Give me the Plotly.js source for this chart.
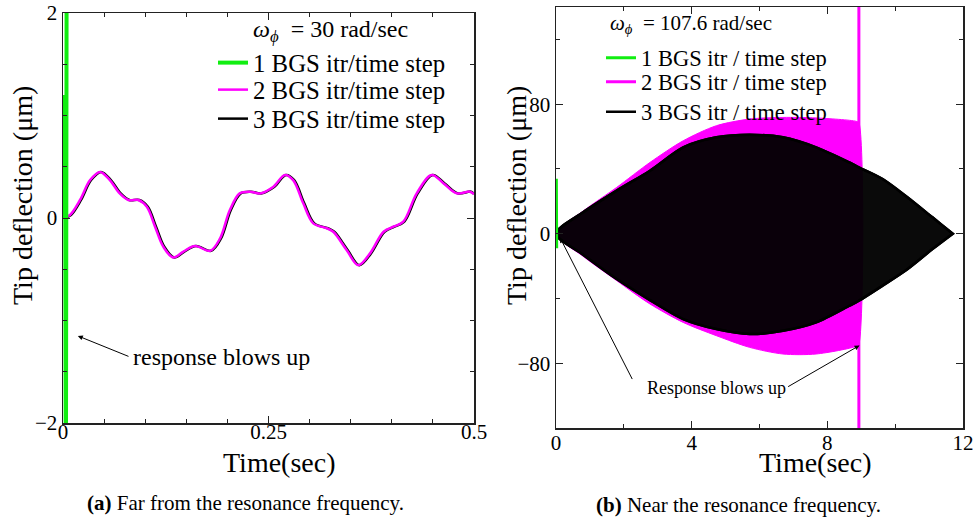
<!DOCTYPE html>
<html>
<head>
<meta charset="utf-8">
<script src="https://cdn.plot.ly/plotly-3.0.1.min.js"></script>
<style>html,body{margin:0;padding:0;background:#fff;}#plot{width:978px;height:521px;}</style>
</head>
<body>
<div id="plot"></div>
<script>
// ---- Panel (a): far from resonance (time in s, deflection in um) ----
const timeA2 = [0.0004,0.0085,0.0207,0.033,0.045,0.057,0.069,0.0795,0.0917,0.102,0.112,0.122,0.134,0.146,0.1606,0.179,0.191,0.203,0.215,0.2275,0.2397,0.256,0.27,0.28,0.2923,0.3045,0.3208,0.3288,0.345,0.3593,0.3735,0.39,0.402,0.414,0.4303,0.4485,0.4627,0.479,0.495,0.5];
const defA2 = [0,0.03,0.176,0.37,0.45,0.37,0.24,0.176,0.176,0.11,-0.085,-0.28,-0.385,-0.33,-0.273,-0.32,-0.2,0.078,0.24,0.257,0.24,0.305,0.42,0.37,0.143,-0.052,-0.1,-0.134,-0.312,-0.46,-0.345,-0.134,-0.085,-0.036,0.24,0.42,0.34,0.24,0.257,0.234];
const timeA3 = [0.0016,0.0097,0.0219,0.0342,0.0462,0.0582,0.0702,0.0807,0.0929,0.1032,0.1132,0.1232,0.1352,0.1472,0.1618,0.1802,0.1922,0.2042,0.2162,0.2287,0.2409,0.2572,0.2712,0.2812,0.2935,0.3057,0.322,0.33,0.3462,0.3605,0.3747,0.3912,0.4032,0.4152,0.4315,0.4497,0.4639,0.4802,0.4962,0.5];
const defA3 = [0,0.03,0.176,0.37,0.45,0.37,0.24,0.176,0.176,0.11,-0.085,-0.28,-0.385,-0.33,-0.273,-0.32,-0.2,0.078,0.24,0.257,0.24,0.305,0.42,0.37,0.143,-0.052,-0.1,-0.134,-0.312,-0.46,-0.345,-0.134,-0.085,-0.036,0.24,0.42,0.34,0.24,0.257,0.234];
const timeA1 = [0,0.0025,0.0035,0.0045];
const defA1 = [0,1.2,-3,3];

// ---- Panel (b): near resonance, oscillation envelopes ----
const timeB3 = [0,0.8,1.79,2.77,3.75,4.73,5.71,6.69,7.67,8.65,8.93,9.63,10.37,11.1,11.7];
const upperB3 = [0,13.2,26.6,38.9,53.3,59.5,61.1,59.5,53.3,44,41,33.8,22.4,10.1,0];
const lowerB3 = [0,-13,-28,-41,-52.7,-58.9,-62,-60,-54.8,-44.5,-41.4,-32.1,-21.8,-9.5,0];
const timeB2 = [0,0.8,1.79,2.77,3.75,4.73,5.71,6.69,7.67,8.85,8.93];
const upperB2 = [0,14,28.6,44,57.4,66.7,70.8,71.8,71.5,69.4,68.5];
const lowerB2 = [0,-14,-29,-43.4,-54.8,-63,-70.2,-74.3,-74.3,-69.5,-68];
const blowB2t = [8.93,8.93];
const blowB2y = [-300,300];
const timeB1 = [0,0.01,0.02];
const defB1 = [0,34,-9];

const labels1 = ['1 BGS itr/time step','2 BGS itr/time step','3 BGS itr/time step'];
const labels2 = ['1 BGS itr / time step','2 BGS itr / time step','3 BGS itr / time step'];

const GREEN = '#11ee11', MAG = '#ff00ff', BLK = '#000000';
const FONT = 'Liberation Serif, Times New Roman, serif';

function poly(t, up, lo) {
  return { x: t.concat(t.slice().reverse()), y: up.concat(lo.slice().reverse()) };
}
const pB2 = poly(timeB2, upperB2, lowerB2);
const pB3 = poly(timeB3, upperB3, lowerB3);

const traces = [
  {x: timeA3, y: defA3, xaxis:'x', yaxis:'y', mode:'lines', line:{color:BLK, width:2.5, shape:'spline'}, name: labels1[2], legend:'legend3'},
  {x: timeA2, y: defA2, xaxis:'x', yaxis:'y', mode:'lines', line:{color:MAG, width:2.5, shape:'spline'}, name: labels1[1], legend:'legend2'},
  {x: timeA1, y: defA1, xaxis:'x', yaxis:'y', mode:'lines', line:{color:GREEN, width:4}, name: labels1[0], legend:'legend'},

  {x: pB2.x, y: pB2.y, xaxis:'x2', yaxis:'y2', mode:'lines', fill:'toself', fillcolor:MAG, line:{color:MAG, width:1, shape:'spline', smoothing:0.8}, showlegend:false, hoverinfo:'skip'},
  {x: blowB2t, y: blowB2y, xaxis:'x2', yaxis:'y2', mode:'lines', line:{color:MAG, width:3}, name: labels2[1], legend:'legend5'},
  {x: pB3.x, y: pB3.y, xaxis:'x2', yaxis:'y2', mode:'lines', fill:'toself', fillcolor:'rgba(0,0,0,0.96)', line:{color:BLK, width:2.5, shape:'spline', smoothing:0.8}, showlegend:false, hoverinfo:'skip'},
  {x: pB3.x, y: pB3.y, xaxis:'x2', yaxis:'y2', mode:'lines', line:{color:BLK, width:2.5, shape:'spline', smoothing:0.8}, name: labels2[2], legend:'legend6'},
  {x: timeB1, y: defB1, xaxis:'x2', yaxis:'y2', mode:'lines', line:{color:GREEN, width:3}, name: labels2[0], legend:'legend4'}
];

function px2x(p){ return p/978; }
function px2y(p){ return 1 - p/521; }

function mkLegend(xpx, ypx, size){
  return {x: px2x(xpx), y: px2y(ypx), xanchor:'left', yanchor:'middle', bgcolor:'rgba(0,0,0,0)', borderwidth:0,
          font:{family:FONT, size:size, color:'#000'}, itemwidth:30};
}

const axCommon = {showline:true, linecolor:'#222', linewidth:1.5, mirror:'allticks', ticks:'inside', ticklen:7, tickwidth:1, tickcolor:'#222',
  showgrid:false, zeroline:false, tickfont:{family:FONT, size:21, color:'#000'}};

function note(xpx, ypx, text, size, extra){
  return Object.assign({xref:'paper', yref:'paper', x:px2x(xpx), y:px2y(ypx), xanchor:'center', yanchor:'middle', showarrow:false, text:text, font:{family:FONT, size:size, color:'#000'}}, extra||{});
}

const layout = {
  width:978, height:521, margin:{l:0,r:0,t:0,b:0}, paper_bgcolor:'#fff', plot_bgcolor:'#fff', showlegend:true,
  font:{family:FONT, color:'#000'},
  xaxis: Object.assign({}, axCommon, {domain:[63/978, 474/978], range:[0,0.5], tickvals:[0,0.25,0.5], ticktext:['0','0.25','0.5'], ticklabelstandoff:-11,
          minor:{dtick:0.05, tick0:0, ticks:'inside', ticklen:4, tickcolor:'#222'}, anchor:'y'}),
  yaxis: Object.assign({}, axCommon, {domain:[px2y(423), px2y(13)], range:[-2,2], tickvals:[-2,0,2], ticktext:['\u22122','0','2'],
          minor:{dtick:0.5, tick0:0, ticks:'inside', ticklen:4, tickcolor:'#222'}, anchor:'x'}),
  xaxis2: Object.assign({}, axCommon, {domain:[556/978, 963/978], range:[0,12], tickvals:[0,4,8,12], ticklabelstandoff:-5,
          minor:{dtick:2, tick0:0, ticks:'inside', ticklen:4, tickcolor:'#222'}, anchor:'y2'}),
  yaxis2: Object.assign({}, axCommon, {domain:[px2y(428), px2y(7)], range:[-120,140], tickvals:[-80,0,80], ticktext:['\u221280','0','80'],
          minor:{dtick:40, tick0:0, ticks:'inside', ticklen:4, tickcolor:'#222'}, anchor:'x2'}),
  legend:  mkLegend(213, 63, 24.8),
  legend2: mkLegend(213, 90, 24.8),
  legend3: mkLegend(213, 119, 24.8),
  legend4: mkLegend(601, 58, 22.5),
  legend5: mkLegend(601, 82, 22.5),
  legend6: mkLegend(601, 112, 22.5),
  annotations: [
    note(330, 31, '<i>ω</i><sub><i>ϕ</i></sub>  = 30 rad/sec', 24),
    note(691, 24, '<i>ω</i><sub><i>ϕ</i></sub>  = 107.6 rad/sec', 21),
    note(22, 196, 'Tip deflection (μm)', 28, {textangle:-90}),
    note(516, 196, 'Tip deflection (μm)', 28, {textangle:-90}),
    note(279, 462, 'Time(sec)', 28),
    note(815, 462, 'Time(sec)', 28),
    note(245, 503, '<b>(a)</b> Far from the resonance frequency.', 21),
    note(738, 505, '<b>(b)</b> Near the resonance frequency.', 21),
    // panel (a) annotation
    {xref:'x', yref:'y', x:0.1934, y:-1.356, xanchor:'center', yanchor:'middle', showarrow:false, text:'response blows up', font:{family:FONT, size:24, color:'#000'}},
    {xref:'x', yref:'y', axref:'x', ayref:'y', x:0.018, y:-1.15, ax:0.0815, ay:-1.356, text:'', showarrow:true, arrowhead:2, arrowsize:1, arrowwidth:1, arrowcolor:'#000'},
    // panel (b) annotation
    {xref:'x2', yref:'y2', x:4.74, y:-95, xanchor:'center', yanchor:'middle', showarrow:false, text:'Response blows up', font:{family:FONT, size:18, color:'#000'}},
    {xref:'x2', yref:'y2', axref:'x2', ayref:'y2', x:0.12, y:-2.5, ax:2.27, ay:-90.7, text:'', showarrow:true, arrowhead:2, arrowsize:1, arrowwidth:1, arrowcolor:'#000'},
    {xref:'x2', yref:'y2', axref:'x2', ayref:'y2', x:8.95, y:-69, ax:6.8, ay:-95, text:'', showarrow:true, arrowhead:2, arrowsize:1, arrowwidth:1, arrowcolor:'#000'}
  ]
};

Plotly.newPlot('plot', traces, layout, {staticPlot:true, displayModeBar:false});
</script>
</body>
</html>
